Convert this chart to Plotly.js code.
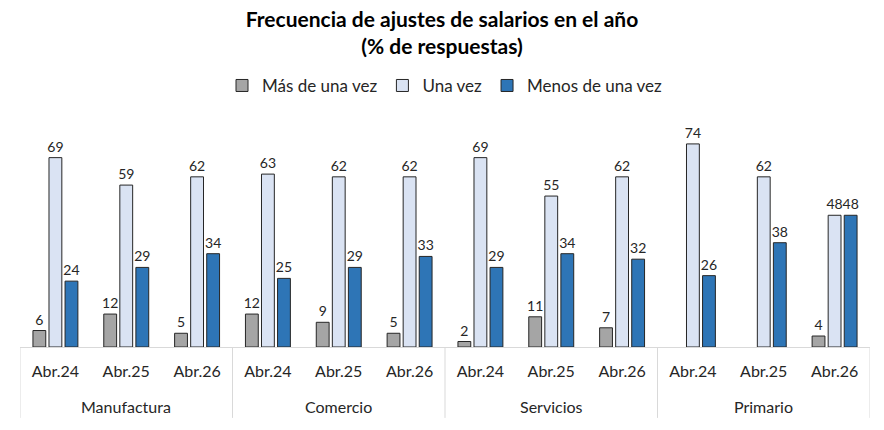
<!DOCTYPE html>
<html>
<head>
<meta charset="utf-8">
<script src="https://cdn.plot.ly/plotly-3.0.1.min.js"></script>
<style>
  body { margin: 0; background: #fff; }
  #grafico { width: 884px; height: 430px; }
</style>
</head>
<body>
<div id="grafico"></div>
<script>
// datos del grafico
let sectores = ['Manufactura', 'Comercio', 'Servicios', 'Primario'];
let periodos = ['Abr.24', 'Abr.25', 'Abr.26'];

// valores por serie, en orden sector x periodo (null = sin barra)
let masDeUnaVez = [6, 12, 5, 12, 9, 5, 2, 11, 7, null, null, 4];
let unaVez = [69, 59, 62, 63, 62, 62, 69, 55, 62, 74, 62, 48];
let menosDeUnaVez = [24, 29, 34, 25, 29, 33, 29, 34, 32, 26, 38, 48];

let nombres = ['Más de una vez', 'Una vez', 'Menos de una vez'];
let colores = ['#a5a5a5', '#dae3f3', '#2e75b6'];

// categorias unicas sector|periodo, y etiqueta visible = periodo
let claves = [];
let etiquetas = [];
sectores.forEach(function (s) {
  periodos.forEach(function (p) {
    claves.push(s + '|' + p);
    etiquetas.push(p);
  });
});

let fuente = 'Lato, "Open Sans", sans-serif';
let gris = '#d9d9d9';

function serie(valores, i) {
  return {
    type: 'bar',
    name: nombres[i],
    x: claves,
    y: valores,
    text: valores.map(function (v) { return v == null ? '' : String(v); }),
    textposition: 'outside',
    constraintext: 'none',
    cliponaxis: false,
    textfont: { family: fuente, size: 14, color: '#262626' },
    marker: { color: colores[i], line: { color: '#262626', width: 1 } },
    hoverinfo: 'y'
  };
}

let data = [serie(masDeUnaVez, 0), serie(unaVez, 1), serie(menosDeUnaVez, 2)];

// nombres de sector bajo las etiquetas de periodo
let anotaciones = sectores.map(function (s) {
  return {
    text: s,
    x: s + '|' + periodos[1],
    xref: 'x',
    y: -0.242,
    yref: 'paper',
    yanchor: 'middle',
    showarrow: false,
    font: { family: fuente, size: 16, color: '#262626' }
  };
});

// lineas divisorias entre sectores
let divisores = [];
for (let k = 0; k <= sectores.length; k++) {
  divisores.push({
    type: 'line',
    xref: 'x',
    yref: 'paper',
    x0: k * periodos.length - 0.5,
    x1: k * periodos.length - 0.5,
    y0: 0,
    y1: -0.287,
    line: { color: gris, width: 1 }
  });
}

let layout = {
  width: 884,
  height: 430,
  margin: { l: 20, r: 14, t: 100, b: 83 },
  paper_bgcolor: '#fff',
  plot_bgcolor: '#fff',
  font: { family: fuente, color: '#262626' },
  title: {
    text: '<b>Frecuencia de ajustes de salarios en el año<br>(% de respuestas)</b>',
    font: { family: fuente, size: 21, color: '#000' },
    x: 0.5,
    xanchor: 'center',
    y: 0.938,
    yanchor: 'middle'
  },
  showlegend: true,
  legend: {
    orientation: 'h',
    x: 0.5,
    xanchor: 'center',
    y: 1.057,
    yanchor: 'middle',
    font: { family: fuente, size: 17, color: '#262626' },
    traceorder: 'normal'
  },
  barmode: 'group',
  bargap: 0.32,
  bargroupgap: 0.2,
  xaxis: {
    type: 'category',
    tickvals: claves,
    ticktext: etiquetas,
    showline: true,
    linecolor: gris,
    linewidth: 1,
    ticks: '',
    ticklabelstandoff: 10,
    tickfont: { family: fuente, size: 16, color: '#262626' },
    showgrid: false,
    range: [-0.5, claves.length - 0.5]
  },
  yaxis: {
    range: [0, 90],
    visible: false,
    showgrid: false,
    zeroline: false
  },
  annotations: anotaciones,
  shapes: divisores
};

Plotly.newPlot('grafico', data, layout, { displayModeBar: false, staticPlot: true });
</script>
</body>
</html>
